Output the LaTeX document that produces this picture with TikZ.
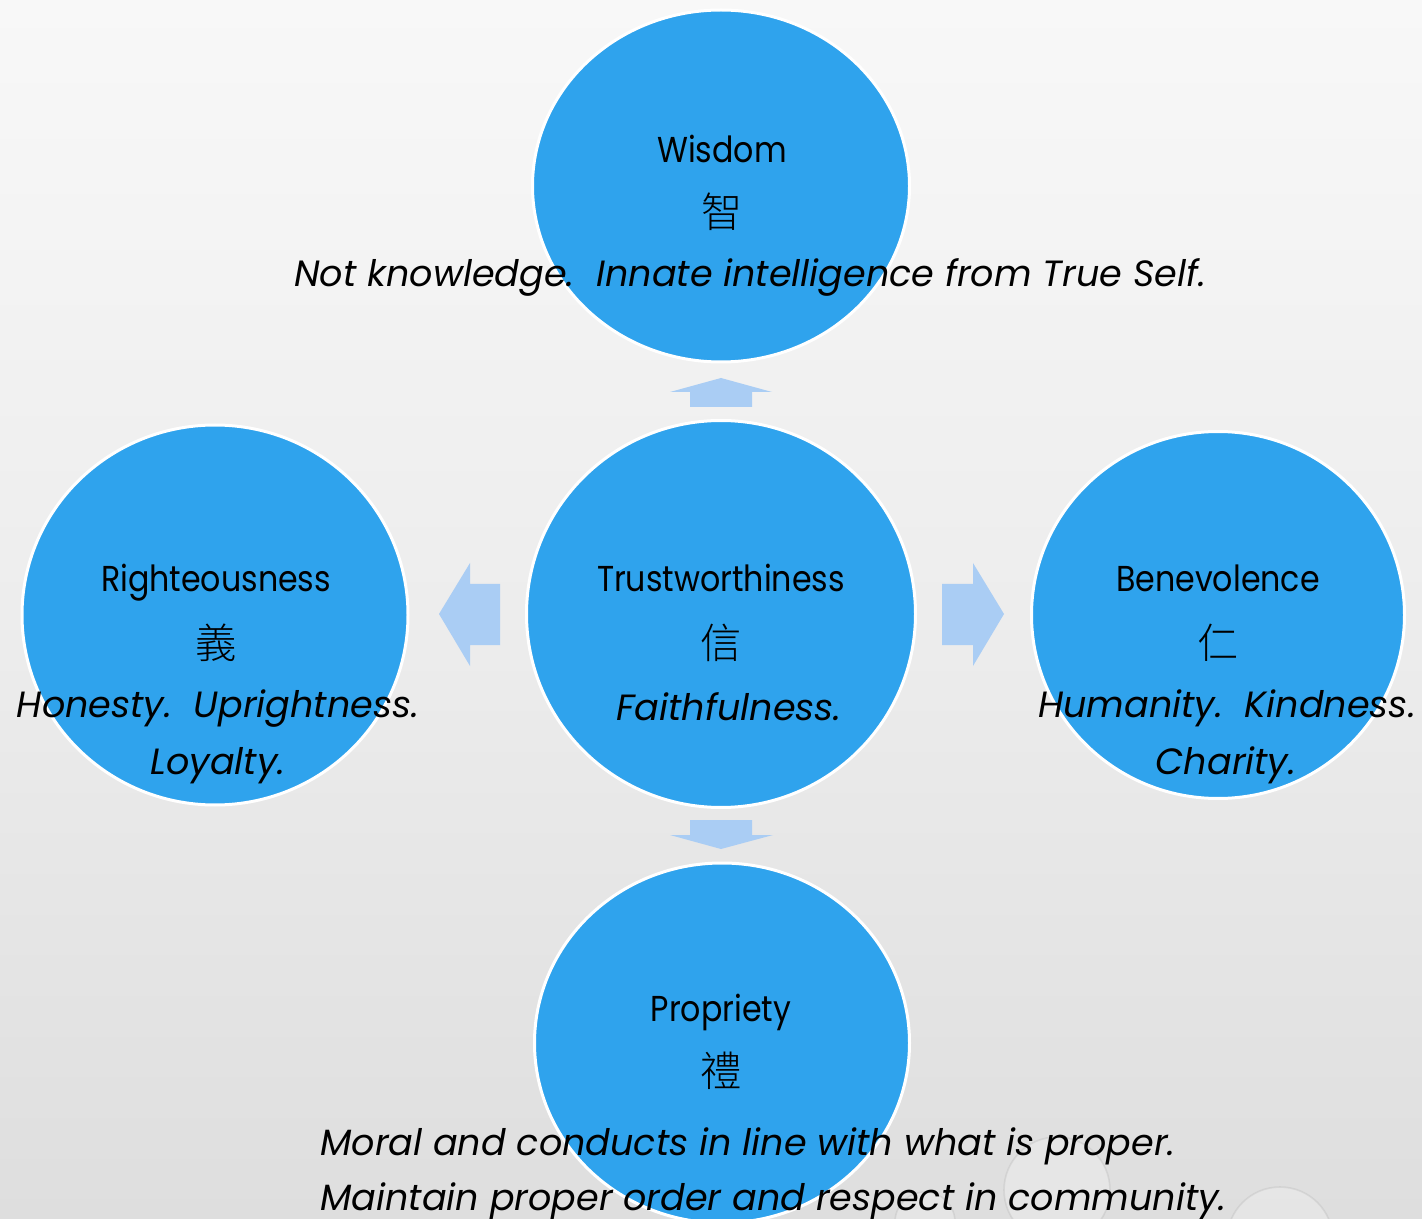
\documentclass[tikz,border=0pt]{standalone}
\usepackage{fontspec}
\setmainfont{Poppins}
\newfontfamily\titlefont{Poppins}[FakeStretch=0.88]
\newfontfamily\cjk{Noto Sans CJK TC Light}
\usetikzlibrary{shapes.geometric}
\definecolor{bubblefill}{RGB}{47,163,237}
\definecolor{arrowfill}{RGB}{170,205,244}
\definecolor{bgtop}{RGB}{254,254,254}
\definecolor{bgupper}{RGB}{248,248,248}
\definecolor{bgmid}{RGB}{237,237,237}
\definecolor{bgbot}{RGB}{207,207,207}
\pgfdeclareverticalshading{bgshade}{100bp}{color(0bp)=(bgbot); color(50bp)=(bgmid); color(75bp)=(bgupper); color(100bp)=(bgtop)}
\begin{document}
\begin{tikzpicture}[x=0.75pt,y=-0.75pt,
  bubble/.style={ellipse, fill=bubblefill, draw=white, line width=2.25pt, inner sep=0pt},
  title/.style={font=\titlefont\fontsize{27}{32}\selectfont, anchor=base, inner sep=0pt, text=black},
  hanzi/.style={font=\cjk\fontsize{31}{36}\selectfont, anchor=center, inner sep=0pt, text=black},
  gloss/.style={font=\itshape\fontsize{27.4}{32}\selectfont, anchor=base, inner sep=0pt, text=black},
  blockarrow/.style={fill=arrowfill, draw=none},
  drop/.style={fill=white, fill opacity=0.22, draw=gray!60, draw opacity=0.3, line width=1.2pt}]
% background
\fill[shading=bgshade] (0,0) rectangle (1422,1219);
\useasboundingbox (0,0) rectangle (1422,1219);
% droplets
\begin{scope}
\clip (0,0) rectangle (1422,1219);
\path[drop] (1057,1190) circle[radius=53];
\path[drop] (1280,1240) circle[radius=53];
\path[drop] (925,1222) circle[radius=30];
\end{scope}
% bubbles
\node[bubble, minimum width=282.75pt, minimum height=264pt] (wis) at (721,186) {};
\node[bubble, minimum width=291.75pt, minimum height=290.25pt] (tru) at (721,614) {};
\node[bubble, minimum width=289.5pt, minimum height=285pt] (rig) at (215,615) {};
\node[bubble, minimum width=279.75pt, minimum height=275.25pt] (ben) at (1218,615) {};
\node[bubble, minimum width=281.25pt, minimum height=270pt] (pro) at (722,1043) {};
% block arrows
\path[blockarrow] (690,407) -- (690,392) -- (670,392) -- (721,378) -- (772,392) -- (752,392) -- (752,407) -- cycle;
\path[blockarrow] (690,820) -- (752,820) -- (752,835) -- (773,835) -- (721,849) -- (670,835) -- (690,835) -- cycle;
\path[blockarrow] (500,584) -- (470,584) -- (470,563) -- (439,614) -- (470,666) -- (470,645) -- (500,645) -- cycle;
\path[blockarrow] (942,584) -- (973,584) -- (973,563) -- (1004,614) -- (973,666) -- (973,645) -- (942,645) -- cycle;
% texts: Wisdom
\node[title] (wisT) at (722,163) {Wisdom};
\node[hanzi] (wisH) at (722,212) {智};
\node[gloss] (wisG) at (750,287) {Not knowledge.\hspace{0.6em}Innate intelligence from True Self.};
% Trustworthiness
\node[title] (truT) at (721,592) {Trustworthiness};
\node[hanzi] (truH) at (721,643) {信};
\node[gloss] (truG) at (729,720) {Faithfulness.};
% Righteousness
\node[title] (rigT) at (216,592) {Righteousness};
\node[hanzi] (rigH) at (216,643) {義};
\node[gloss] (rigG1) at (218,717) {Honesty.\ \ Uprightness.};
\node[gloss] (rigG2) at (218,774) {Loyalty.};
% Benevolence
\node[title] (benT) at (1218,592) {Benevolence};
\node[hanzi] (benH) at (1218,643) {仁};
\node[gloss] (benG1) at (1227,717) {Humanity.\ \ Kindness.};
\node[gloss] (benG2) at (1226,774) {Charity.};
% Propriety
\node[title] (proT) at (721,1021) {Propriety};
\node[hanzi] (proH) at (721,1071) {禮};
\node[gloss, anchor=base west] (proG1) at (320,1155) {Moral and conducts in line with what is proper.};
\node[gloss, anchor=base west] (proG2) at (320,1210) {Maintain proper order and respect in community.};
\end{tikzpicture}
\end{document}
